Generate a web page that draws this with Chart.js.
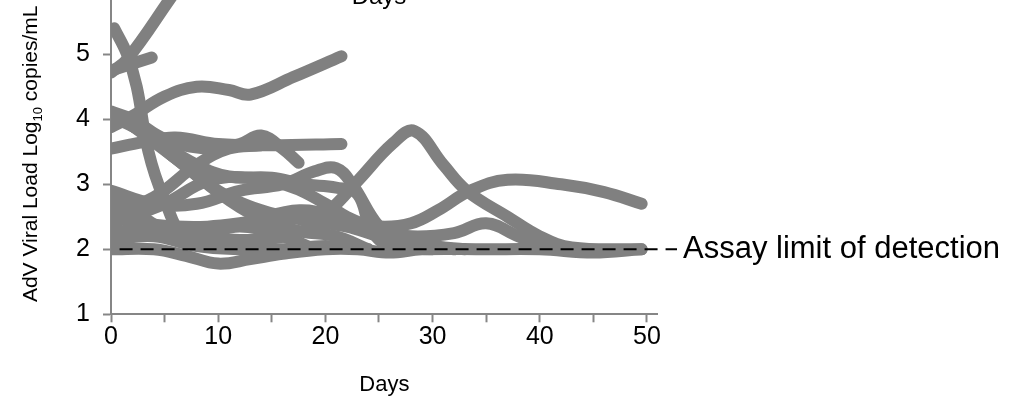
<!DOCTYPE html>
<html>
<head>
<meta charset="utf-8">
<script src="https://cdn.jsdelivr.net/npm/chart.js@4"></script>
<style>
  html, body { margin: 0; padding: 0; background: #fff; overflow: hidden; }
  #wrap { position: relative; width: 1013px; height: 408px; overflow: hidden; }
  /* canvas is taller than the page so the y axis runs past the top edge */
  #viral-chart { position: absolute; left: 0; top: -40px; }
</style>
</head>
<body>
<div id="wrap"><canvas id="viral-chart" width="1013" height="448"></canvas></div>
<script>
// --- DATA ---
const dayTicks = [0, 10, 20, 30, 40, 50];
const loadTicks = [1, 2, 3, 4, 5];
const detectionLimit = 2;

// sampling days per patient
const patientDays = [
  [0, 1.5, 5.5, 8],
  [0, 3.8],
  [0.3, 1.5, 2.4, 3.5, 4.9, 7, 10, 13],
  [0, 2, 5, 8, 11, 13, 17, 21.5],
  [0, 3, 6, 10, 15, 21.5],
  [0, 2, 5, 9, 12, 14, 16, 17.5],
  [1, 4, 8, 11, 15, 18, 21, 23, 24.3, 26, 30],
  [0, 4, 8, 12, 16, 19, 21, 22.5, 25, 27, 30, 33],
  [0, 5, 11, 17.4, 20.4, 23, 26.3, 28.3, 31, 33.2, 37, 40, 43, 49.5],
  [0, 6, 12, 17.6, 22, 25, 28, 30.5, 33.5, 37, 42, 46, 49.5],
  [0, 3, 6, 10, 14, 18, 22, 25, 28, 32],
  [0, 5, 9, 13, 17, 20, 22, 25, 28, 32, 35, 38, 41, 44],
  [0, 4, 7, 10, 13, 16, 20, 23, 26, 29, 35, 40, 45, 49.5],
  [0, 4, 8, 12, 16, 20, 24],
  [0, 2, 5, 8, 12, 16, 19],
  [0, 4, 8, 11, 14],
  [2, 6, 12, 17, 21, 24]
];

// log10 AdV copies/mL, same order as patientDays
const patientLoads = [
  [4.72, 4.92, 5.85, 6.45],
  [4.75, 4.95],
  [5.4, 5.0, 4.5, 3.5, 2.8, 2.15, 2.05, 2.1],
  [3.88, 4.05, 4.35, 4.5, 4.45, 4.38, 4.65, 4.97],
  [3.55, 3.65, 3.72, 3.62, 3.6, 3.62],
  [4.12, 4.0, 3.7, 3.55, 3.62, 3.75, 3.55, 3.33],
  [4.0, 3.7, 3.3, 3.12, 3.1, 3.0, 2.95, 2.85, 2.3, 2.05, 2.0],
  [2.9, 2.7, 2.7, 2.9, 3.0, 3.2, 3.25, 3.0, 2.35, 2.15, 2.05, 2.0],
  [2.25, 2.35, 2.15, 2.25, 2.6, 3.05, 3.63, 3.82, 3.3, 2.9, 2.5, 2.2, 2.03, 2.0],
  [2.5, 2.35, 2.4, 2.6, 2.45, 2.35, 2.4, 2.6, 2.9, 3.07, 3.0, 2.88, 2.7],
  [4.05, 3.8, 3.4, 2.9, 2.6, 2.45, 2.35, 2.2, 2.1, 2.0],
  [2.4, 2.7, 3.05, 3.1, 2.95, 2.7, 2.5, 2.3, 2.2, 2.25, 2.4, 2.2, 2.02, 2.0],
  [2.0, 2.0, 1.9, 1.78, 1.85, 1.93, 2.0, 2.0, 1.95, 2.0, 2.0, 2.0, 1.95, 2.0],
  [2.15, 2.2, 2.05, 2.0, 2.0, 2.05, 2.0],
  [2.75, 2.6, 2.3, 2.2, 2.35, 2.2, 2.0],
  [2.55, 2.8, 3.3, 3.55, 3.6],
  [3.9, 3.4, 2.65, 2.3, 2.2, 2.0]
];

// dashed detection-limit line runs a little past the axis end
const limitSpan = [0.8, 52.8];

// --- STYLE ---
const fontFamily = '"Liberation Sans", Arial, sans-serif';
const lineGrey = '#808080';
const axisGrey = '#868686';
const canvasShift = 40;

// --- EXTRA TEXT (limit label, rotated y title with subscript, title of panel above) ---
const extraText = {
  id: 'extraText',
  afterDraw(chart) {
    const { ctx, chartArea, scales: { x, y } } = chart;
    ctx.save();
    ctx.fillStyle = '#000';

    ctx.font = `31px ${fontFamily}`;
    ctx.textAlign = 'left';
    ctx.textBaseline = 'middle';
    ctx.fillText('Assay limit of detection', x.getPixelForValue(limitSpan[1]) + 6, y.getPixelForValue(detectionLimit));

    ctx.font = `24px ${fontFamily}`;
    ctx.textAlign = 'center';
    ctx.textBaseline = 'alphabetic';
    ctx.fillText('Days', 379, canvasShift + 4);

    // y title: "AdV Viral Load Log10 copies/mL" with 10 as subscript
    const big = `21px ${fontFamily}`;
    const small = `13px ${fontFamily}`;
    const parts = [
      { t: 'AdV Viral Load Log', f: big, dy: 0 },
      { t: '10', f: small, dy: 5 },
      { t: ' copies/mL', f: big, dy: 0 }
    ];
    let total = 0;
    parts.forEach(p => { ctx.font = p.f; p.w = ctx.measureText(p.t).width; total += p.w; });
    ctx.translate(37, (chartArea.top + chartArea.bottom) / 2 + 2);
    ctx.rotate(-Math.PI / 2);
    ctx.textAlign = 'left';
    let cx = -total / 2;
    parts.forEach(p => {
      ctx.font = p.f;
      ctx.fillText(p.t, cx, p.dy);
      cx += p.w;
    });
    ctx.restore();
  }
};

// --- DATASETS ---
const limitDataset = {
  data: limitSpan.map(d => ({ x: d, y: detectionLimit })),
  borderColor: '#000',
  borderWidth: 2,
  borderDash: [13, 8],
  pointRadius: 0,
  tension: 0,
  clip: false
};

const patientDatasets = patientDays.map((days, i) => ({
  data: days.map((d, j) => ({ x: d, y: patientLoads[i][j] })),
  borderColor: lineGrey,
  borderWidth: 12,
  borderCapStyle: 'round',
  borderJoinStyle: 'round',
  pointRadius: 0,
  tension: 0.4,
  fill: false
}));

// --- CHART ---
const ctx = document.getElementById('viral-chart').getContext('2d');
new Chart(ctx, {
  type: 'line',
  data: { datasets: [limitDataset, ...patientDatasets] },
  plugins: [extraText],
  options: {
    responsive: false,
    animation: false,
    devicePixelRatio: 1,
    layout: { padding: { left: 0, top: 29.3, right: 355.3, bottom: 3.7 } },
    plugins: { legend: { display: false }, tooltip: { enabled: false } },
    scales: {
      x: {
        type: 'linear',
        min: 0,
        max: 51,
        afterFit: s => { s.height = 90; },
        border: { color: axisGrey, width: 2 },
        grid: { drawOnChartArea: false, tickLength: 8, tickColor: axisGrey, tickWidth: 2 },
        ticks: {
          stepSize: 5,
          includeBounds: false,
          autoSkip: false,
          maxRotation: 0,
          padding: 0,
          color: '#000',
          font: { size: 25, family: fontFamily },
          callback: v => dayTicks.includes(v) ? v : ''
        },
        title: {
          display: true,
          text: 'Days',
          color: '#000',
          font: { size: 22, family: fontFamily },
          padding: { top: 0, bottom: 6 }
        }
      },
      y: {
        min: 1,
        max: 6,
        afterFit: s => { s.width = 111; },
        border: { color: axisGrey, width: 2 },
        grid: { drawOnChartArea: false, tickLength: 8, tickColor: axisGrey, tickWidth: 2 },
        ticks: {
          stepSize: 1,
          padding: 13,
          color: '#000',
          font: { size: 25, family: fontFamily },
          callback: v => loadTicks.includes(v) ? v : ''
        }
      }
    }
  }
});
</script>
</body>
</html>
